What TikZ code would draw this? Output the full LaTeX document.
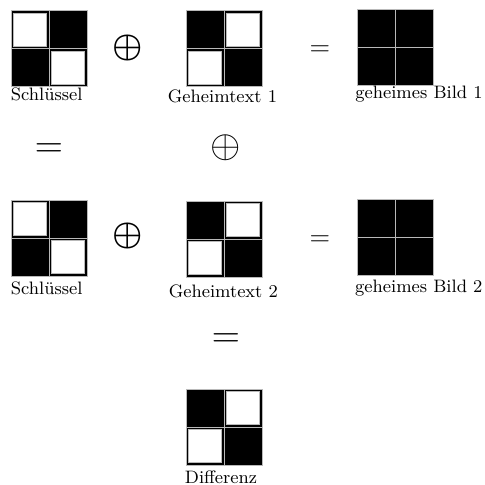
\RequirePackage{fix-cm}
\documentclass[tikz,border=0pt]{standalone}
\usepackage{amsmath}
\usepackage{bm}
\newcommand\mycell[3]{%
  \path[blackcell] (#1,#2) rectangle ++(38,38);
  \ifx w#3\path[whitecell] (#1+2.5,#2+2.5) rectangle ++(33,33);\fi
}
\tikzset{
  gridline/.style={draw=gray!55, line width=0.4pt},
  blackcell/.style={gridline, fill=black},
  whitecell/.style={gridline, fill=white},
  lbl/.style={font=\small, inner sep=0pt, anchor=base},
  sym/.style={inner sep=0pt},
  pics/cellgrid/.style n args={4}{code={
    \mycell{0}{0}{#1}\mycell{38}{0}{#2}\mycell{0}{38}{#3}\mycell{38}{38}{#4}
  }}
}
\begin{document}
\begin{tikzpicture}[x=0.5pt,y=-0.5pt]
\useasboundingbox (0,0) rectangle (485,484);
% row 1
\pic at (11,10.5) {cellgrid={w}{b}{b}{w}};
\pic at (186,10.5) {cellgrid={b}{w}{w}{b}};
\pic at (357,9) {cellgrid={b}{b}{b}{b}};
\node[lbl] (keyA) at (46.7,100.5) {Schlüssel};
\node[lbl] (ctA) at (222.5,102.5) {Geheimtext 1};
\node[lbl] (imgA) at (419,98.5) {geheimes Bild 1};
\node[sym] (xorA) at (128,48) {\fontsize{17}{20}\selectfont$\bm{\oplus}$};
\node[sym, anchor=base] (eqA) at (320,55.75) {\fontsize{13.5}{16}\selectfont$=$};
% row 2
\node[sym, anchor=base] (eqB) at (49,157.75) {\fontsize{19.5}{22}\selectfont$=$};
\node[sym] (xorB) at (226,148) {\fontsize{19.5}{22}\selectfont$\oplus$};
% row 3
\pic at (11,200) {cellgrid={w}{b}{b}{w}};
\pic at (186,201) {cellgrid={b}{w}{w}{b}};
\pic at (357,199) {cellgrid={b}{b}{b}{b}};
\node[lbl] (keyB) at (46.7,294.5) {Schlüssel};
\node[lbl] (ctB) at (223.3,297.5) {Geheimtext 2};
\node[lbl] (imgB) at (418.8,292.5) {geheimes Bild 2};
\node[sym] (xorC) at (128,236) {\fontsize{17}{20}\selectfont$\bm{\oplus}$};
\node[sym, anchor=base] (eqC) at (320,245.75) {\fontsize{13.5}{16}\selectfont$=$};
% row 4
\node[sym, anchor=base] (eqD) at (226,347.75) {\fontsize{19.5}{22}\selectfont$=$};
\pic at (186,389) {cellgrid={b}{w}{w}{b}};
\node[lbl] (diff) at (221,483.5) {Differenz};
\end{tikzpicture}
\end{document}
